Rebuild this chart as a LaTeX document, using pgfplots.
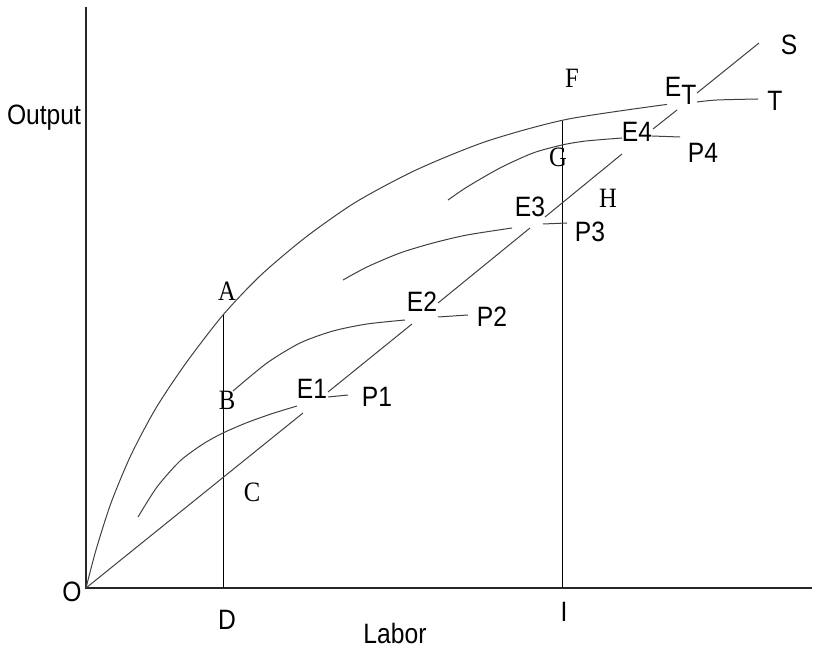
\documentclass[border=0pt]{standalone}
\usepackage{fontspec}
\setmainfont[FakeStretch=0.88]{Liberation Sans}
\newfontfamily\serifl[FakeStretch=0.88]{Liberation Serif}
\usepackage{pgfplots}
\pgfplotsset{compat=1.18}
\tikzset{lbl/.style={font=\fontsize{14}{14}\selectfont, text=black, inner sep=0pt},
  slbl/.style={font=\serifl\fontsize{14}{14}\selectfont, text=black, inner sep=0pt},
  crv/.style={black!75, solid, line width=0.5pt, mark=none, smooth, tension=0.45},
  seg/.style={black!75, solid, line width=0.5pt, mark=none, sharp plot}}

\begin{document}
\begin{tikzpicture}
\begin{axis}[scale only axis, width=406.5pt, height=324pt,
  xmin=-86, xmax=727, ymin=-60, ymax=588,
  hide axis, clip=false]
\draw[draw=none] (rel axis cs:0,0) rectangle (rel axis cs:1,1);
% axes
\addplot[black!85, line width=0.7pt, mark=none] coordinates {(0,581) (0,0) (726,0)};
% vertical lines at D and I
\addplot[black, line width=0.5pt, mark=none] coordinates {(137.5,0) (137.5,273)};
\addplot[black, line width=0.5pt, mark=none] coordinates {(476,0) (476,467)};
% total product curve through A and F
\addplot[crv] coordinates {(0,0) (10,38) (25,85) (45,133) (70,180) (100,225) (137,273)
  (175,313) (220,351) (270,386) (330,418) (400,446.5) (480,468.5) (581,483.6)};
% ray OS, broken at the E labels
\addplot[seg] coordinates {(0,0) (217,175)};
\addplot[seg] coordinates {(242,196) (326,264)};
\addplot[seg] coordinates {(352,285) (444,360)};
\addplot[seg] coordinates {(459,371) (536,434)};
\addplot[seg] coordinates {(567,459) (591,478)};
\addplot[seg] coordinates {(611,495) (673,545)};
% short-run curves
\addplot[crv] coordinates {(52,71) (71,101) (94,127) (117,144) (137,155) (160,165) (185,174) (211,182)};
\addplot[seg] coordinates {(242,191) (262,193)};
\addplot[crv] coordinates {(147,197) (181,225) (214,245) (247,257) (281,264) (319,268)};
\addplot[seg] coordinates {(352,271) (382,273)};
\addplot[crv] coordinates {(257,308) (281,321) (314,335) (347,345) (381,353) (426,360)};
\addplot[seg] coordinates {(457,364) (481,365)};
\addplot[crv] coordinates {(362,388) (381,401) (414,420) (447,435) (476,443) (500,447) (536,450)};
\addplot[seg] coordinates {(566,452) (594,451)};
\addplot[crv] coordinates {(611,486) (631,488) (672,489)};
% labels
\node[lbl] at (axis cs:-42,470) {Output};
\node[lbl] at (axis cs:-14,-4) {O};
\node[lbl] at (axis cs:141,-32) {D};
\node[lbl] at (axis cs:309,-45) {Labor};
\node[lbl] at (axis cs:478,-24) {I};
\node[slbl] at (axis cs:141,297) {A};
\node[slbl] at (axis cs:141,188) {B};
\node[slbl] at (axis cs:166,96) {C};
\node[slbl] at (axis cs:522,390) {H};
\node[slbl] at (axis cs:472,431) {G};
\node[slbl] at (axis cs:486,510) {F};
\node[lbl] at (axis cs:226,199) {E1};
\node[lbl] at (axis cs:291,191) {P1};
\node[lbl] at (axis cs:336,286) {E2};
\node[lbl] at (axis cs:406,271) {P2};
\node[lbl] at (axis cs:444,381) {E3};
\node[lbl] at (axis cs:504,356) {P3};
\node[lbl] at (axis cs:551,456) {E4};
\node[lbl] at (axis cs:617,435) {P4};
\node[lbl] at (axis cs:587,501) {E};
\node[lbl] at (axis cs:603,493) {T};
\node[lbl] at (axis cs:703,543) {S};
\node[lbl] at (axis cs:689,487) {T};
\end{axis}
\end{tikzpicture}
\end{document}
